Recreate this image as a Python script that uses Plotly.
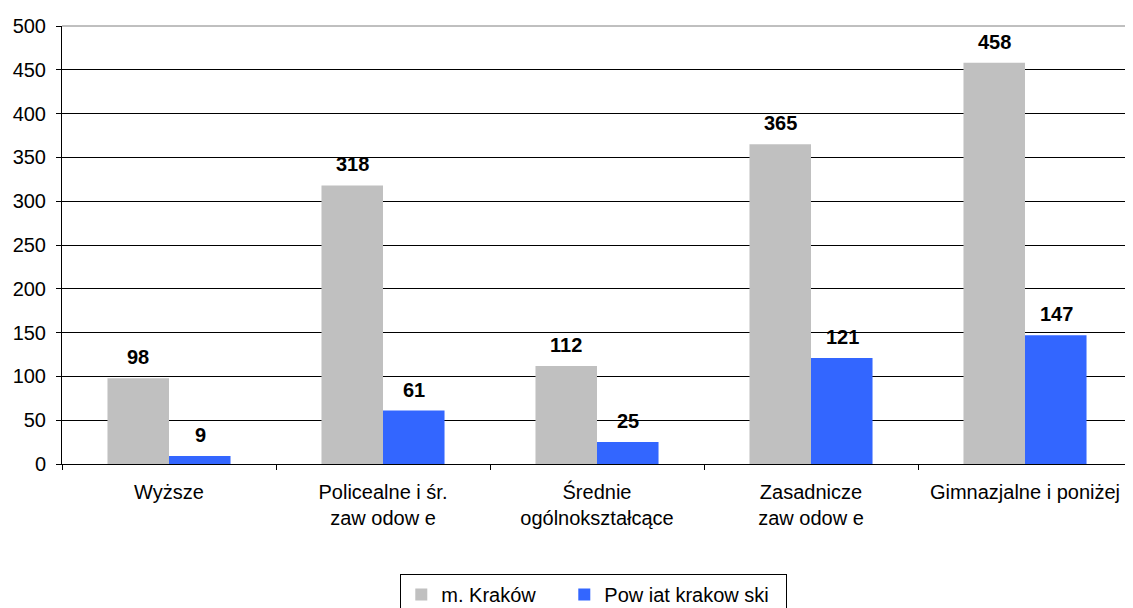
import plotly.graph_objects as go

categories = ["Wyższe", "Policealne i śr.<br>zaw odow e", "Średnie<br>ogólnokształcące",
              "Zasadnicze<br>zaw odow e", "Gimnazjalne i poniżej"]
krakow = [98, 318, 112, 365, 458]
powiat = [9, 61, 25, 121, 147]
y_ticks = [0, 50, 100, 150, 200, 250, 300, 350, 400, 450, 500]

FONT = "Liberation Sans, Arial, sans-serif"


def main():
    fig = go.Figure()
    fig.add_trace(go.Bar(x=categories, y=krakow, name="m. Kraków", marker_color="#C0C0C0",
                         marker_line_width=0, legendwidth=118))
    fig.add_trace(go.Bar(x=categories, y=powiat, name="Pow iat krakow ski", marker_color="#3366FF",
                         marker_line_width=0, legendwidth=177))

    # value labels above bars (bold, a little higher than plotly's default text)
    annotations = []
    for series, shift in ((krakow, -31), (powiat, 31)):
        for cat, val in zip(categories, series):
            annotations.append(dict(x=cat, y=val, text="<b>%d</b>" % val, showarrow=False,
                                    xanchor="center", yanchor="bottom", xshift=shift, yshift=8,
                                    font=dict(size=20, color="black", family=FONT)))

    # page body has an 8px margin, so the figure is 8px smaller than the window
    fig.update_layout(
        width=1125, height=600,
        barmode="group", bargap=0.425, bargroupgap=0,
        plot_bgcolor="white", paper_bgcolor="white",
        font=dict(family=FONT, size=20, color="black"),
        margin=dict(l=54, r=1, t=18, b=144, autoexpand=False),
        showlegend=True,
        legend=dict(orientation="h", x=0.497, xanchor="center", y=-0.251, yanchor="top",
                    bordercolor="black", borderwidth=1, font=dict(size=20),
                    itemwidth=30, tracegroupgap=0),
        annotations=annotations,
        shapes=[
            dict(type="line", xref="paper", yref="paper", x0=0, x1=1, y0=1, y1=1,
                 line=dict(color="#808080", width=1)),
            dict(type="line", xref="paper", yref="paper", x0=1, x1=1, y0=0, y1=1,
                 line=dict(color="#808080", width=1)),
        ],
    )
    fig.update_xaxes(showline=True, linecolor="black", linewidth=1, ticks="outside",
                     tickson="boundaries", ticklen=5, tickcolor="black", showgrid=False,
                     tickfont=dict(size=20), ticklabelstandoff=10, automargin=False)
    fig.update_yaxes(range=[0, 500], tickvals=y_ticks, showline=True, linecolor="black",
                     linewidth=1, ticks="outside", ticklen=5, tickcolor="black",
                     showgrid=True, gridcolor="black", gridwidth=1, zeroline=False,
                     tickfont=dict(size=20), ticklabelstandoff=6, automargin=False)
    fig.write_html("out.html")


if __name__ == '__main__':
    main()
